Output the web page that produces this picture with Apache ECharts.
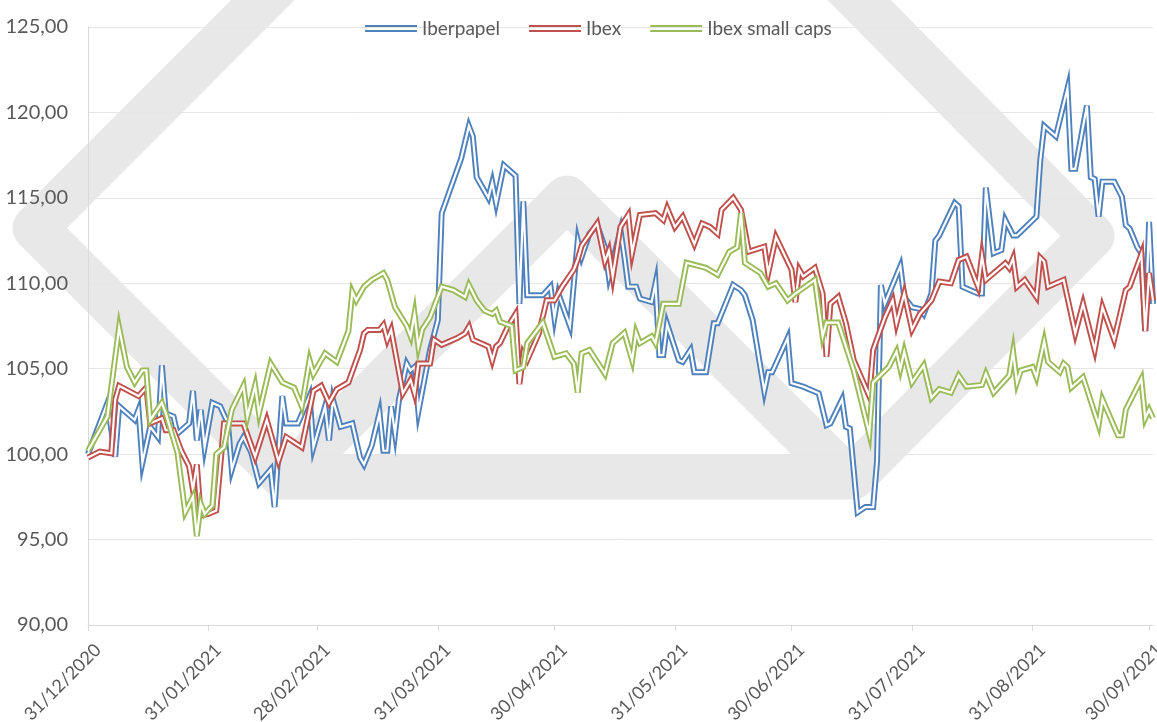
<!DOCTYPE html>
<html>
<head>
<meta charset="utf-8">
<title>Iberpapel vs Ibex</title>
<script src="https://cdn.jsdelivr.net/npm/echarts@6/dist/echarts.min.js"></script>
<style>
  html, body { margin: 0; padding: 0; background: #fff; }
  #chart { width: 1157px; height: 722px; }
</style>
</head>
<body>
<div id="chart"></div>
<script>
// days since 31/12/2020 for each plotted point, and the index value on that day
const iberDays = [0, 5, 7, 8, 12, 13, 14, 16, 18, 19, 20, 22, 23, 26, 27, 28, 29, 30, 32, 34, 36, 37, 39, 40, 42, 44, 47, 48, 50, 51, 54, 57, 58, 61, 62, 63, 65, 68, 70, 71, 73, 75, 76, 77, 78, 79, 80, 82, 83, 84, 85, 88, 90, 91, 96, 98, 99, 100, 103, 104, 105, 107, 110, 111, 112, 113, 117, 119, 120, 121, 124, 126, 127, 129, 131, 133, 134, 137, 138, 139, 141, 142, 145, 146, 147, 148, 149, 152, 153, 155, 156, 159, 161, 162, 166, 168, 169, 171, 174, 175, 176, 180, 181, 184, 188, 190, 191, 194, 195, 196, 198, 200, 202, 203, 204, 205, 209, 210, 212, 214, 215, 217, 218, 219, 223, 224, 225, 229, 230, 231, 233, 235, 236, 238, 239, 244, 245, 246, 249, 252, 253, 254, 257, 258, 259, 260, 261, 264, 266, 267, 268, 270, 271, 272, 273, 274];
const iberVals = [100, 103.0, 99.85, 102.8, 102.0, 102.6, 99.5, 101.6, 101.0, 105.2, 102.4, 102.2, 101.2, 101.8, 103.7, 100.8, 102.6, 100.4, 103.0, 102.8, 101.8, 99.1, 100.6, 101.0, 100.1, 98.3, 99.1, 96.9, 103.4, 101.8, 101.8, 103.4, 100.4, 102.8, 100.8, 103.2, 101.6, 101.8, 99.8, 99.4, 100.5, 102.4, 100.2, 100.2, 102.8, 101.2, 103.2, 105.3, 104.9, 105.1, 102.5, 106.1, 107.85, 114.1, 117.3, 119.2, 118.6, 116.2, 115.0, 115.9, 114.7, 116.9, 116.3, 108.8, 114.8, 109.3, 109.3, 109.8, 108.0, 109.4, 107.5, 112.5, 111.55, 112.9, 113.4, 112.1, 110.4, 113.1, 111.55, 109.8, 109.8, 109.1, 108.9, 110.0, 105.8, 105.8, 107.6, 105.5, 105.4, 106.1, 104.8, 104.8, 107.66, 107.66, 109.9, 109.6, 109.3, 107.85, 103.7, 104.8, 104.8, 106.8, 104.15, 103.95, 103.56, 101.7, 101.8, 103.2, 101.6, 101.5, 96.6, 96.9, 96.9, 99.6, 109.9, 108.8, 111.0, 109.2, 108.6, 108.5, 108.2, 109.4, 112.5, 112.8, 114.7, 114.5, 109.8, 109.4, 109.4, 115.6, 111.76, 111.95, 113.7, 112.8, 112.8, 113.9, 117.2, 119.2, 118.6, 121.4, 116.7, 116.7, 120.4, 116.2, 116.1, 113.9, 115.95, 115.95, 115.07, 113.4, 113.2, 112.1, 111.76, 107.2, 113.6, 108.8];

const ibexDays = [0, 3, 6, 7, 8, 13, 15, 16, 19, 20, 22, 24, 26, 27, 28, 29, 31, 33, 35, 40, 43, 46, 49, 51, 55, 58, 60, 62, 64, 67, 70, 71, 72, 75, 76, 77, 78, 81, 83, 84, 85, 88, 89, 91, 95, 97, 98, 99, 103, 104, 105, 106, 108, 110, 111, 112, 113, 116, 118, 120, 122, 125, 126, 127, 131, 133, 134, 135, 137, 139, 140, 142, 146, 148, 149, 151, 153, 156, 158, 160, 162, 163, 166, 168, 170, 172, 174, 175, 177, 181, 182, 183, 184, 187, 189, 190, 191, 193, 195, 197, 201, 202, 205, 207, 208, 210, 212, 214, 217, 219, 222, 224, 226, 229, 230, 231, 236, 237, 238, 239, 241, 244, 245, 246, 247, 251, 254, 256, 259, 261, 264, 267, 268, 271, 272, 273, 274];
const ibexVals = [99.8, 100.15, 100.05, 103.2, 104.0, 103.4, 103.9, 101.8, 102.1, 101.4, 101.4, 100.2, 99.3, 97.9, 99.4, 96.4, 96.5, 96.7, 101.8, 101.8, 99.85, 102.0, 99.6, 101.0, 100.4, 103.7, 104.0, 103.0, 103.8, 104.2, 106.1, 107.07, 107.27, 107.27, 107.56, 106.7, 107.27, 103.56, 104.34, 103.56, 105.3, 105.3, 106.7, 106.4, 106.8, 107.07, 107.46, 106.7, 106.3, 105.5, 106.3, 106.5, 107.46, 108.2, 104.1, 105.9, 105.5, 107.07, 109.0, 109.0, 109.8, 110.8, 111.4, 112.2, 113.5, 111.3, 111.9, 110.4, 113.3, 114.0, 111.8, 114.0, 114.1, 113.7, 114.4, 113.3, 113.9, 112.3, 113.5, 113.3, 112.9, 114.3, 115.0, 114.3, 111.85, 112.0, 112.14, 110.6, 112.7, 110.8, 108.9, 110.8, 110.4, 110.9, 109.4, 105.7, 108.8, 109.2, 107.66, 105.5, 103.4, 106.1, 108.0, 109.0, 107.66, 109.4, 107.3, 108.2, 109.0, 110.1, 110.0, 111.36, 111.56, 109.8, 111.6, 110.2, 111.17, 110.9, 111.46, 109.8, 110.2, 109.2, 111.5, 111.27, 109.8, 110.2, 107.07, 108.8, 106.1, 108.6, 106.7, 109.6, 109.8, 111.7, 107.2, 110.6, 109.0];

const smallDays = [0, 5, 8, 10, 12, 14, 15, 16, 19, 20, 23, 25, 27, 28, 29, 30, 32, 33, 35, 37, 40, 41, 43, 44, 47, 50, 53, 55, 57, 58, 61, 64, 67, 68, 69, 71, 73, 76, 77, 79, 82, 83, 84, 85, 86, 88, 91, 94, 97, 98, 100, 102, 104, 105, 106, 109, 110, 112, 113, 117, 120, 123, 125, 126, 127, 129, 133, 135, 137, 138, 140, 141, 142, 145, 146, 148, 152, 154, 159, 162, 165, 167, 168, 169, 173, 175, 177, 180, 182, 187, 189, 190, 193, 197, 201, 202, 206, 208, 209, 210, 212, 215, 217, 219, 222, 224, 226, 230, 231, 233, 237, 238, 239, 240, 243, 244, 246, 247, 250, 251, 252, 253, 256, 260, 261, 265, 266, 267, 271, 272, 273, 274];
const smallVals = [100.2, 102.2, 107.4, 105.1, 104.2, 104.9, 104.9, 102.0, 103.0, 102.4, 100.1, 96.6, 97.5, 95.2, 97.1, 96.5, 97.0, 100.0, 100.4, 102.6, 104.0, 102.2, 104.0, 102.4, 105.3, 104.2, 103.9, 102.8, 105.5, 104.7, 105.9, 105.4, 107.2, 109.5, 109.0, 109.8, 110.2, 110.6, 110.2, 108.6, 107.5, 106.9, 108.2, 106.3, 107.3, 108.0, 109.8, 109.6, 109.2, 109.9, 109.0, 108.4, 108.2, 108.4, 107.75, 107.5, 104.9, 105.1, 106.5, 107.7, 105.7, 105.9, 105.3, 103.6, 105.9, 106.1, 104.7, 106.5, 106.9, 107.1, 105.5, 107.1, 106.5, 106.9, 106.5, 108.8, 108.8, 111.2, 110.9, 110.5, 111.85, 112.1, 114.1, 111.2, 110.6, 109.8, 110.0, 109.0, 109.4, 110.2, 106.9, 107.7, 107.7, 104.9, 101.2, 104.2, 105.1, 106.0, 105.0, 106.0, 104.2, 105.2, 103.3, 103.8, 103.6, 104.6, 103.95, 104.05, 104.7, 103.6, 104.6, 106.0, 104.2, 104.9, 105.1, 104.5, 106.6, 105.4, 104.8, 105.3, 105.1, 103.9, 104.5, 101.7, 103.2, 101.1, 101.1, 102.6, 104.4, 102.1, 102.6, 102.1];

const seriesNames = ['Iberpapel', 'Ibex', 'Ibex small caps'];
const seriesColors = ['#4f81bd', '#c0504d', '#9bbb59'];
const tickLabels = ['31/12/2020', '31/01/2021', '28/02/2021', '31/03/2021', '30/04/2021',
                    '31/05/2021', '30/06/2021', '31/07/2021', '31/08/2021', '30/09/2021'];

document.addEventListener('DOMContentLoaded', function() {
    const chart = echarts.init(document.getElementById('chart'));
    const font = 'Lato, "Open Sans", sans-serif';

    // x runs in days since 31/12/2020; tick positions come from the label dates
    const start = Date.UTC(2020, 11, 31);
    const tickDays = tickLabels.map(s => {
        const p = s.split('/');
        return Math.round((Date.UTC(+p[2], +p[1] - 1, +p[0]) - start) / 86400000);
    });

    const allDays = [iberDays, ibexDays, smallDays];
    const allVals = [iberVals, ibexVals, smallVals];

    // Excel "double" line: a wide coloured stroke with a thin white one on top
    const series = [];
    seriesNames.forEach((name, i) => {
        const data = allDays[i].map((d, k) => [d, allVals[i][k]]);
        series.push({
            name: name,
            type: 'line',
            data: data,
            symbol: 'none',
            silent: true,
            itemStyle: { color: seriesColors[i] },
            lineStyle: { color: seriesColors[i], width: 6, join: 'miter', miterLimit: 8 },
            emphasis: { disabled: true }
        });
        series.push({
            name: name + ' inner',
            type: 'line',
            data: data,
            symbol: 'none',
            silent: true,
            lineStyle: { color: '#ffffff', width: 2.2, join: 'miter', miterLimit: 8 },
            emphasis: { disabled: true }
        });
    });

    const doubleIcon = 'path://M0,0H52V2H0ZM0,5H52V7H0Z';
    const band = { stroke: '#e8e8e8', lineWidth: 45, fill: null, lineJoin: 'round' };

    const option = {
        animation: false,
        grid: { left: 88, right: 4, top: 27, bottom: 97, containLabel: false, outerBoundsMode: 'none' },
        legend: {
            left: 360,
            top: 14,
            itemWidth: 52,
            itemHeight: 7,
            itemGap: 29,
            selectedMode: false,
            textStyle: { fontSize: 19, color: '#595959', fontFamily: font },
            data: seriesNames.map(n => ({ name: n, icon: doubleIcon }))
        },
        graphic: [
            {
                type: 'polyline', z: -10, silent: true,
                shape: { points: [[323, -60], [35, 228], [284, 477], [853, 477], [1092, 236], [800, -60]] },
                style: band
            },
            {
                type: 'polyline', z: -10, silent: true,
                shape: { points: [[288, 477], [567, 198], [846, 477]] },
                style: band
            }
        ],
        xAxis: {
            type: 'value',
            min: 0,
            max: 274,
            axisLine: { show: true, lineStyle: { color: '#d9d9d9', width: 1 } },
            axisTick: { show: true, customValues: tickDays, length: 6, lineStyle: { color: '#d9d9d9' } },
            axisLabel: {
                customValues: tickDays,
                rotate: 45,
                margin: 12,
                verticalAlign: 'top',
                padding: [5, 0, 0, 0],
                fontSize: 18,
                color: '#595959',
                fontFamily: font,
                formatter: function(v) {
                    const idx = tickDays.indexOf(Math.round(v));
                    return idx >= 0 ? tickLabels[idx] : '';
                }
            },
            splitLine: { show: false }
        },
        yAxis: {
            type: 'value',
            min: 90,
            max: 125,
            interval: 5,
            axisLine: { show: true, lineStyle: { color: '#d9d9d9' } },
            axisTick: { show: false },
            axisLabel: {
                margin: 20,
                fontSize: 20,
                color: '#595959',
                fontFamily: font,
                formatter: v => v.toFixed(2).replace('.', ',')
            },
            splitLine: { lineStyle: { color: '#e6e6e6', width: 1 } }
        },
        series: series
    };

    chart.setOption(option);
});
</script>
</body>
</html>
